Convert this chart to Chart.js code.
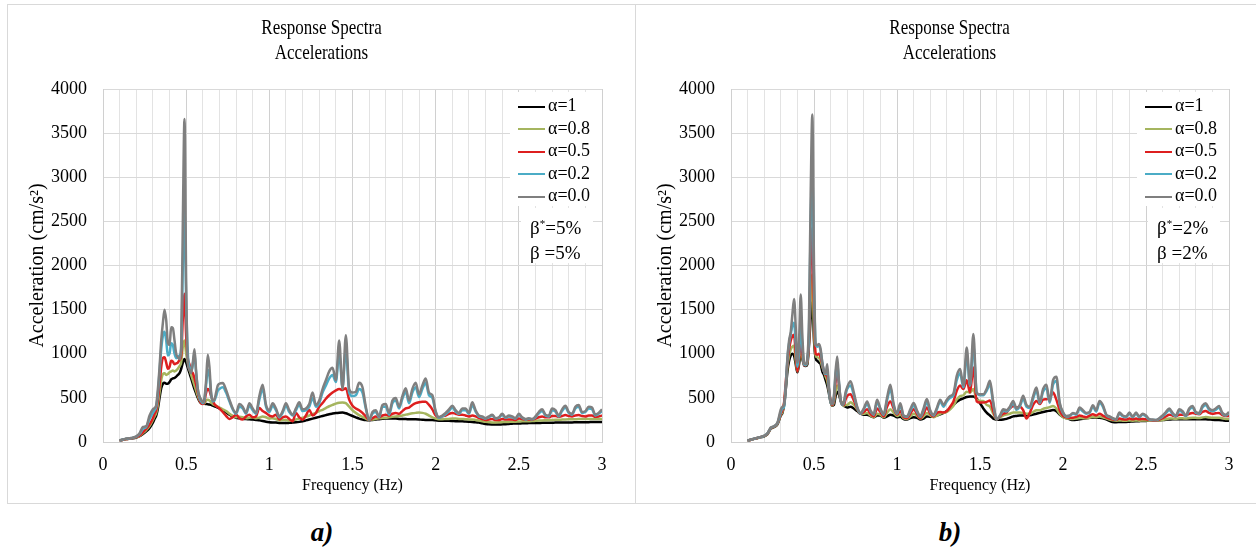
<!DOCTYPE html>
<html>
<head>
<meta charset="utf-8">
<script src="https://cdn.jsdelivr.net/npm/chart.js@4.4.0/dist/chart.umd.min.js"></script>
<style>
  body { margin: 0; width: 1256px; height: 552px; overflow: hidden; background: #fff; color: #000;
         font-family: 'Liberation Serif', 'Times New Roman', serif; position: relative; }
  .panel { position: absolute; box-sizing: border-box; border: 1px solid #d9d9d9; background: #fff; }
  canvas { position: absolute; }
  .title { position: absolute; text-align: center; font-size: 17px; line-height: 21px;
           transform: scaleY(1.18); transform-origin: center top; }
  .legend-box { position: absolute; background: #fff; }
  .legend-row { position: absolute; height: 22px; font-size: 18px; line-height: 22px; white-space: nowrap; }
  .swatch { display: inline-block; width: 27px; height: 2px; vertical-align: middle; margin-right: 3px; }
  .beta { position: absolute; font-size: 19px; line-height: 25px; white-space: nowrap; }
  .beta sup { font-size: 11px; vertical-align: 7px; line-height: 0; }
  .caption { position: absolute; width: 100px; text-align: center; font-weight: bold; font-style: italic;
             font-size: 27px; line-height: 32px; }
</style>
</head>
<body>
<div class="panel" style="left:7px;top:4px;width:629px;height:500px"></div>
<div class="panel" style="left:635px;top:4px;width:640px;height:500px"></div>
<canvas id="chart-b5" width="626" height="497" style="left:8px;top:5px"></canvas>
<canvas id="chart-b2" width="620" height="497" style="left:636px;top:5px"></canvas>
<div class="title" style="left:7px;top:15px;width:629px">Response Spectra<br>Accelerations</div>
<div class="title" style="left:635px;top:15px;width:629px">Response Spectra<br>Accelerations</div>
<div id="legends"></div>
<div class="caption" style="left:272px;top:516px">a)</div>
<div class="caption" style="left:900px;top:516px">b)</div>

<script>
const freqHz = [
  0.10, 0.12, 0.14, 0.16, 0.18, 0.20, 0.22, 0.24, 0.26, 0.28, 0.30,
  0.31, 0.32, 0.33, 0.34, 0.35, 0.36, 0.37, 0.38, 0.39, 0.40,
  0.41, 0.42, 0.43, 0.44, 0.45, 0.46, 0.47, 0.48, 0.49, 0.50,
  0.51, 0.52, 0.53, 0.54, 0.55, 0.56, 0.57, 0.58, 0.59, 0.60,
  0.61, 0.62, 0.63, 0.64, 0.65, 0.66, 0.67, 0.68, 0.69, 0.70,
  0.72, 0.74, 0.76, 0.78, 0.80, 0.82, 0.84, 0.86, 0.88, 0.90,
  0.92, 0.94, 0.96, 0.98, 1.00, 1.02, 1.04, 1.06, 1.08, 1.10,
  1.12, 1.14, 1.16, 1.18, 1.20,
  1.22, 1.24, 1.26, 1.28, 1.30, 1.32, 1.34, 1.36, 1.38, 1.40,
  1.42, 1.44, 1.46, 1.48, 1.50, 1.52, 1.54, 1.56, 1.58, 1.60,
  1.62, 1.64, 1.66, 1.68, 1.70, 1.72, 1.74, 1.76, 1.78, 1.80,
  1.82, 1.84, 1.86, 1.88, 1.90, 1.92, 1.94, 1.96, 1.98, 2.00,
  2.02, 2.04, 2.06, 2.08, 2.10, 2.12, 2.14, 2.16, 2.18, 2.20,
  2.22, 2.24, 2.26, 2.28, 2.30, 2.32, 2.34, 2.36, 2.38, 2.40,
  2.42, 2.44, 2.46, 2.48, 2.50, 2.52, 2.54, 2.56, 2.58, 2.60,
  2.62, 2.64, 2.66, 2.68, 2.70, 2.72, 2.74, 2.76, 2.78, 2.80,
  2.82, 2.84, 2.86, 2.88, 2.90, 2.92, 2.94, 2.96, 2.98, 3.00
];

const seriesLabels = ['α=1', 'α=0.8', 'α=0.5', 'α=0.2', 'α=0.0'];
const seriesColors = ['#000000', '#a5b55f', '#dd1f1f', '#4bacc6', '#7f7f7f'];

// panel a) beta* = beta = 5%
const accB5Alpha10 = [
  15, 25, 33, 38, 42, 50, 65, 90, 120, 160, 220,
  260, 300, 380, 500, 610, 660, 670, 660, 660, 680,
  710, 720, 725, 740, 760, 780, 830, 900, 940, 900,
  840, 780, 720, 660, 600, 550, 500, 460, 440, 435,
  432, 430, 428, 425, 420, 412, 405, 398, 390, 380,
  360, 335, 310, 290, 275, 268, 263, 260, 258, 255,
  250, 245, 238, 230, 225, 222, 220, 216, 215, 215,
  217, 220, 223, 228, 235,
  245, 255, 265, 275, 285, 295, 305, 315, 322, 328,
  332, 333, 325, 310, 295, 280, 265, 255, 248, 246,
  250, 255, 258, 262, 265, 265, 265, 265, 262, 260,
  260, 258, 258, 257, 255, 252, 250, 250, 248, 245,
  242, 240, 240, 240, 238, 236, 235, 234, 232, 230,
  228, 225, 220, 212, 205, 200, 198, 197, 198, 200,
  202, 205, 208, 210, 210, 212, 212, 214, 215, 215,
  216, 217, 218, 218, 219, 220, 220, 221, 222, 222,
  222, 223, 224, 224, 225, 225, 226, 226, 227, 227
];
const accB5Alpha08 = [
  15, 25, 33, 38, 44, 52, 70, 100, 135, 180, 250,
  290, 330, 420, 560, 700, 770, 780, 760, 770, 790,
  800, 810, 800, 810, 830, 860, 900, 1080, 1150, 1000,
  900, 820, 760, 700, 640, 580, 520, 470, 445, 435,
  440, 470, 480, 470, 450, 430, 420, 410, 400, 390,
  370, 350, 320, 295, 280, 285, 280, 270, 275, 280,
  270, 275, 290, 280, 265, 270, 260, 245, 250, 250,
  240, 245, 255, 265, 275,
  285, 300, 315, 330, 350, 365, 385, 405, 420, 435,
  445, 447, 440, 400, 360, 330, 305, 285, 265, 250,
  255, 262, 268, 272, 275, 280, 285, 290, 295, 300,
  310, 318, 325, 330, 333, 330, 320, 300, 280, 265,
  258, 258, 260, 262, 265, 265, 262, 260, 258, 255,
  255, 250, 242, 235, 228, 225, 222, 222, 223, 225,
  227, 228, 230, 230, 232, 234, 235, 236, 237, 240,
  243, 245, 246, 247, 250, 252, 252, 254, 256, 257,
  257, 258, 260, 260, 260, 262, 262, 260, 260, 262
];
const accB5Alpha05 = [
  15, 26, 34, 40, 46, 55, 75, 110, 150, 200, 270,
  320, 360, 480, 650, 850, 950, 960, 900, 830, 850,
  920, 910, 880, 890, 900, 930, 980, 1400, 1680, 1200,
  950, 880, 800, 780, 720, 650, 560, 480, 440, 430,
  460, 560, 600, 580, 520, 470, 430, 410, 395, 380,
  340, 295, 260, 280, 310, 270, 255, 290, 310, 280,
  290, 385, 350, 329, 300, 290, 310, 255, 280, 290,
  260, 234, 329, 280, 253,
  300, 366, 300, 330, 400, 442, 490, 530, 560, 585,
  600, 590, 610, 480, 410, 380, 360, 330, 290, 250,
  270, 290, 280, 300, 310, 300, 320, 330, 320, 350,
  380, 390, 420, 440, 450, 455, 455, 420, 370, 300,
  280, 290, 300, 320, 330, 320, 310, 310, 300, 290,
  300, 290, 270, 260, 250, 255, 260, 250, 250, 260,
  255, 255, 255, 250, 265, 260, 255, 255, 255, 265,
  280, 290, 280, 280, 295, 295, 285, 295, 305, 295,
  290, 300, 305, 295, 290, 300, 300, 285, 290, 300
];
const accB5Alpha02 = [
  16, 28, 36, 42, 48, 60, 90, 150, 170, 260, 330,
  360, 400, 550, 800, 1050, 1200, 1250, 1150, 980, 1000,
  1120, 1100, 1000, 950, 960, 980, 1050, 2000, 2620, 1600,
  1000, 850, 800, 880, 1000, 780, 600, 500, 460, 440,
  480, 650, 820, 750, 540, 460, 470, 520, 580, 600,
  620, 560, 460, 370, 320, 400, 380, 320, 410, 360,
  320, 480, 600, 400, 340, 410, 360, 280, 330, 410,
  340, 300, 360, 420, 350,
  360, 400, 500, 400, 440, 560, 640, 720, 760, 680,
  1000, 620, 1050, 560, 520, 530, 600, 560, 380, 250,
  320, 340, 280, 400, 400, 310, 440, 470, 380, 490,
  570, 440, 560, 620, 510, 600, 670, 530, 500, 340,
  275, 290, 315, 350, 390, 345, 320, 360, 360, 320,
  420, 345, 290, 280, 265, 280, 300, 265, 275, 305,
  275, 290, 280, 265, 305, 275, 255, 265, 258, 280,
  325, 350, 300, 290, 360, 345, 290, 350, 390, 330,
  310, 380, 400, 330, 340, 380, 370, 300, 320, 350
];
const accB5Alpha00 = [
  18, 30, 38, 44, 50, 65, 100, 170, 180, 300, 370,
  385, 420, 600, 850, 1150, 1350, 1500, 1380, 1120, 1100,
  1300, 1290, 1150, 1000, 960, 940, 1100, 2500, 3660, 1800,
  900, 820, 780, 900, 1050, 800, 600, 520, 480, 450,
  500, 700, 990, 850, 560, 470, 480, 560, 640, 660,
  668, 590, 480, 380, 330, 430, 400, 330, 440, 380,
  330, 520, 650, 420, 360, 440, 380, 290, 350, 440,
  360, 310, 380, 450, 370,
  380, 430, 560, 420, 470, 600, 700, 800, 840, 700,
  1150, 600, 1210, 600, 560, 570, 670, 620, 400, 250,
  340, 360, 290, 420, 430, 330, 470, 500, 400, 520,
  610, 470, 600, 670, 540, 640, 720, 560, 530, 350,
  280, 300, 330, 370, 410, 360, 330, 380, 380, 330,
  450, 360, 300, 290, 270, 290, 310, 270, 280, 320,
  280, 300, 290, 270, 320, 280, 260, 270, 260, 290,
  340, 370, 310, 300, 380, 360, 300, 370, 410, 340,
  320, 400, 420, 340, 350, 400, 390, 310, 330, 370
];

// panel b) beta* = beta = 2%
const accB2Alpha10 = [
  15, 25, 35, 45, 55, 65, 90, 150, 170, 200, 300,
  330, 420, 600, 800, 920, 980, 1000, 980, 880, 790,
  880, 1000, 940, 870, 860, 880, 1100, 1400, 1600, 1150,
  950, 920, 900, 880, 800, 760, 700, 640, 550, 450,
  410, 420, 520, 570, 540, 470, 430, 410, 400, 390,
  400, 380, 350, 320, 310, 310, 295, 280, 300, 300,
  275, 290, 310, 300, 280, 285, 260, 255, 270, 280,
  275, 255, 265, 290, 285,
  290, 300, 314, 330, 350, 380, 420, 455, 480, 495,
  510, 515, 515, 490, 440, 380, 333, 300, 265, 255,
  252, 255, 262, 275, 290, 295, 300, 300, 300, 303,
  310, 320, 330, 340, 348, 355, 362, 350, 310, 285,
  270, 258, 250, 252, 258, 262, 268, 276, 278, 276,
  276, 270, 258, 240, 227, 225, 226, 227, 228, 230,
  232, 234, 236, 238, 239, 240, 240, 242, 245, 248,
  252, 255, 258, 258, 258, 258, 257, 257, 258, 258,
  258, 258, 258, 255, 252, 250, 248, 245, 242, 240
];
const accB2Alpha08 = [
  15, 25, 35, 45, 55, 66, 92, 155, 172, 205, 310,
  340, 440, 640, 850, 980, 1050, 1080, 1090, 920, 800,
  920, 1080, 960, 875, 870, 900, 1150, 1600, 1900, 1250,
  980, 960, 950, 920, 850, 800, 740, 690, 580, 460,
  415, 450, 570, 640, 590, 480, 430, 410, 420, 420,
  450, 420, 370, 320, 320, 330, 300, 280, 320, 310,
  280, 330, 370, 330, 295, 310, 270, 260, 290, 320,
  300, 265, 290, 330, 300,
  280, 300, 320, 330, 340, 370, 410, 480, 520, 530,
  570, 560, 600, 480, 466, 466, 420, 400, 320, 258,
  280, 300, 310, 320, 335, 333, 335, 330, 320, 320,
  340, 360, 360, 375, 385, 395, 409, 380, 320, 280,
  270, 265, 262, 265, 272, 270, 268, 275, 285, 280,
  290, 280, 268, 255, 245, 240, 245, 242, 240, 245,
  242, 245, 242, 245, 245, 242, 240, 240, 245, 250,
  258, 265, 265, 262, 268, 268, 265, 272, 276, 274,
  272, 278, 282, 278, 275, 276, 276, 268, 262, 262
];
const accB2Alpha05 = [
  15, 26, 36, 46, 56, 68, 95, 158, 175, 210, 320,
  360, 450, 680, 900, 1050, 1150, 1200, 1216, 1000, 800,
  950, 1150, 1000, 870, 870, 920, 1150, 2000, 2430, 1500,
  1000, 990, 1000, 960, 880, 800, 760, 740, 600, 470,
  420, 480, 680, 780, 650, 480, 430, 420, 480, 520,
  540, 470, 380, 320, 340, 370, 320, 290, 380, 340,
  290, 400, 460, 380, 310, 350, 280, 270, 320, 370,
  320, 270, 320, 390, 320,
  290, 330, 340, 335, 350, 400, 460, 580, 640, 600,
  700, 560, 845, 460, 447, 447, 455, 470, 350, 258,
  290, 320, 333, 380, 409, 390, 400, 360, 265, 330,
  420, 466, 430, 480, 485, 500, 560, 480, 360, 295,
  280, 275, 276, 285, 300, 290, 280, 300, 314, 300,
  320, 300, 280, 265, 255, 250, 265, 258, 255, 265,
  258, 265, 258, 262, 258, 250, 245, 245, 255, 270,
  290, 310, 300, 290, 310, 310, 300, 320, 330, 320,
  315, 340, 352, 330, 320, 325, 330, 305, 295, 295
];
const accB2Alpha02 = [
  16, 27, 37, 47, 57, 70, 98, 160, 178, 215, 340,
  380, 400, 640, 950, 1120, 1220, 1320, 1350, 1120, 850,
  1000, 1300, 1080, 880, 870, 940, 1250, 2500, 3050, 1800,
  1100, 1080, 1100, 1030, 900, 800, 770, 820, 600, 450,
  430, 510, 760, 900, 680, 480, 420, 440, 540, 600,
  640, 530, 390, 320, 370, 430, 350, 310, 450, 370,
  310, 470, 600, 410, 320, 410, 295, 285, 350, 415,
  345, 285, 360, 450, 345,
  300, 370, 460, 400, 460, 500, 530, 700, 780, 620,
  980, 640, 1100, 560, 530, 530, 580, 650, 430, 258,
  295, 355, 345, 385, 440, 365, 400, 490, 400, 385,
  490, 580, 440, 570, 610, 445, 650, 690, 430, 330,
  290, 295, 320, 310, 375, 345, 320, 330, 400, 345,
  445, 400, 305, 285, 265, 255, 320, 290, 282, 320,
  282, 320, 282, 310, 290, 255, 250, 248, 265, 290,
  325, 360, 318, 292, 355, 335, 292, 365, 390, 330,
  320, 390, 420, 365, 350, 365, 390, 320, 300, 330
];
const accB2Alpha00 = [
  16, 28, 38, 48, 58, 72, 100, 165, 180, 220, 370,
  400, 420, 600, 950, 1150, 1250, 1450, 1620, 1300, 900,
  1150, 1670, 1200, 900, 880, 950, 1400, 2800, 3710, 2000,
  1100, 1100, 1110, 1050, 900, 800, 780, 880, 620, 450,
  430, 520, 800, 970, 700, 480, 420, 450, 560, 620,
  687, 560, 400, 330, 380, 460, 360, 320, 480, 380,
  320, 500, 650, 430, 330, 440, 300, 290, 370, 442,
  360, 290, 380, 487, 360,
  310, 385, 480, 420, 480, 520, 550, 750, 826, 640,
  1070, 650, 1224, 560, 540, 540, 600, 693, 450, 258,
  300, 371, 360, 400, 466, 380, 420, 523, 420, 400,
  520, 617, 450, 600, 650, 460, 700, 740, 447, 340,
  295, 300, 330, 320, 390, 360, 330, 340, 417, 360,
  466, 420, 314, 290, 270, 258, 333, 300, 290, 333,
  290, 333, 290, 320, 300, 260, 255, 250, 270, 300,
  340, 379, 330, 300, 371, 350, 300, 380, 409, 340,
  330, 410, 440, 380, 360, 380, 409, 330, 310, 340
];

const yTickStep = 500;
const xTickStep = 0.1;
const fontFamily = "'Liberation Serif', 'Times New Roman', serif";

function isHalfTick(v) {
    return Math.abs(v * 2 - Math.round(v * 2)) < 1e-6;
}

function createSpectraChart(canvasId, seriesValues, rightPad) {
    const ctx = document.getElementById(canvasId).getContext('2d');
    const datasets = seriesValues.map((values, i) => ({
        label: seriesLabels[i],
        data: values.map((v, k) => ({ x: freqHz[k], y: v })),
        borderColor: seriesColors[i],
        backgroundColor: seriesColors[i],
        borderWidth: 2.5,
        pointRadius: 0,
        fill: false,
        cubicInterpolationMode: 'monotone',
        order: seriesValues.length - 1 - i
    }));

    new Chart(ctx, {
        type: 'line',
        data: { datasets: datasets },
        options: {
            responsive: false,
            animation: false,
            events: [],
            layout: { padding: { left: 0, right: rightPad, top: 84, bottom: 0 } },
            plugins: {
                legend: { display: false },
                tooltip: { enabled: false },
                title: { display: false }
            },
            scales: {
                x: {
                    type: 'linear',
                    min: 0,
                    max: 3,
                    afterFit: scale => { scale.height = 60; },
                    ticks: {
                        stepSize: xTickStep,
                        autoSkip: false,
                        maxRotation: 0,
                        padding: 12,
                        color: '#000',
                        font: { family: fontFamily, size: 18 },
                        callback: v => isHalfTick(v) ? String(Math.round(v * 10) / 10) : ''
                    },
                    grid: {
                        drawTicks: false,
                        color: c => isHalfTick(c.tick.value) ? '#d0d0d0' : '#e3e3e3'
                    },
                    border: { color: '#d0d0d0' },
                    title: {
                        display: true,
                        text: 'Frequency (Hz)',
                        color: '#000',
                        font: { family: fontFamily, size: 16 },
                        padding: { top: 0, bottom: 7 }
                    }
                },
                y: {
                    min: 0,
                    max: 4000,
                    afterFit: scale => { scale.width = 95; },
                    ticks: {
                        stepSize: yTickStep,
                        padding: 16,
                        color: '#000',
                        font: { family: fontFamily, size: 18 },
                        callback: v => String(v)
                    },
                    grid: { drawTicks: false, color: '#d9d9d9' },
                    border: { color: '#d0d0d0' },
                    title: {
                        display: true,
                        text: 'Acceleration (cm/s²)',
                        color: '#000',
                        font: { family: fontFamily, size: 20 },
                        padding: { top: 18, bottom: 0 }
                    }
                }
            }
        }
    });
}

function createLegend(plotLeft, betaText) {
    const holder = document.getElementById('legends');
    const box = document.createElement('div');
    box.className = 'legend-box';
    box.style.left = (plotLeft + 407) + 'px';
    box.style.top = '92px';
    box.style.width = '92px';
    box.style.height = '114px';
    holder.appendChild(box);

    seriesLabels.forEach((label, i) => {
        const row = document.createElement('div');
        row.className = 'legend-row';
        row.style.left = (plotLeft + 415) + 'px';
        row.style.top = (94 + i * 22.5) + 'px';
        row.innerHTML = `<span class="swatch" style="background:${seriesColors[i]}"></span>${label}`;
        holder.appendChild(row);
    });

    const betaBox = document.createElement('div');
    betaBox.className = 'legend-box';
    betaBox.style.left = (plotLeft + 418) + 'px';
    betaBox.style.top = '208px';
    betaBox.style.width = '72px';
    betaBox.style.height = '55px';
    holder.appendChild(betaBox);

    const beta = document.createElement('div');
    beta.className = 'beta';
    beta.style.left = (plotLeft + 427) + 'px';
    beta.style.top = '215px';
    beta.innerHTML = `β<sup>*</sup>=${betaText}<br>β =${betaText}`;
    holder.appendChild(beta);
}

createSpectraChart('chart-b5', [accB5Alpha10, accB5Alpha08, accB5Alpha05, accB5Alpha02, accB5Alpha00], 32);
createSpectraChart('chart-b2', [accB2Alpha10, accB2Alpha08, accB2Alpha05, accB2Alpha02, accB2Alpha00], 27);
createLegend(103, '5%');
createLegend(730, '2%');

const allSeries = { accB5Alpha10, accB5Alpha08, accB5Alpha05, accB5Alpha02, accB5Alpha00,
                    accB2Alpha10, accB2Alpha08, accB2Alpha05, accB2Alpha02, accB2Alpha00 };
const badSeries = Object.keys(allSeries).filter(k => allSeries[k].length !== freqHz.length);
if (badSeries.length) {
    throw new Error('length mismatch: ' + badSeries.map(k => k + '=' + allSeries[k].length).join(', '));
}
</script>
</body>
</html>
